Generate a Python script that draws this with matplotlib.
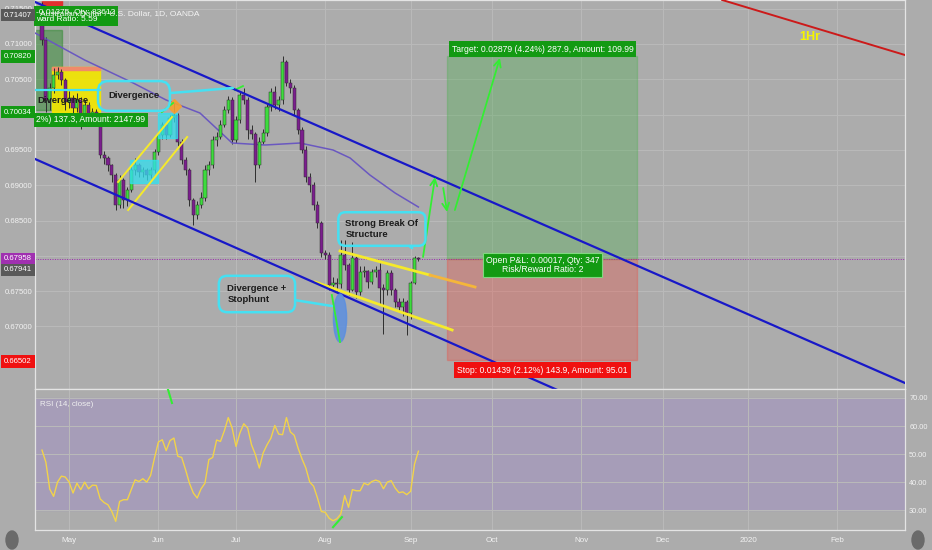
import numpy as np
import pandas as pd
import matplotlib
matplotlib.use("Agg")
import matplotlib.pyplot as plt
import matplotlib.transforms as mtransforms
from matplotlib.patches import Rectangle, Ellipse

plt.rcParams['font.family'] = ['Liberation Sans', 'DejaVu Sans']

# ─── Data (AUD/USD daily) ────────────────────────────────────────────────────
first_open = 0.71510
closes = [0.71057, 0.70207, 0.70377, 0.70561, 0.70604, 0.70490, 0.70179, 0.70235, 0.70094, 0.70207,
          0.69952, 0.70136, 0.69952, 0.70037, 0.69924, 0.69428, 0.69386, 0.69287, 0.69145, 0.68720,
          0.69074, 0.68791, 0.68933, 0.69216, 0.69287, 0.69188, 0.69216, 0.69145, 0.69216, 0.69471,
          0.69711, 0.69853, 0.69711, 0.69952, 0.69995, 0.69612, 0.69357, 0.69216, 0.68791, 0.68579,
          0.68720, 0.68819, 0.69216, 0.69287, 0.69641, 0.69683, 0.69853, 0.70065, 0.70207, 0.69641,
          0.69924, 0.70278, 0.70207, 0.69782, 0.69726, 0.69287, 0.69612, 0.69740, 0.70108, 0.70320,
          0.70136, 0.70207, 0.70745, 0.70448, 0.70377, 0.70065, 0.69782, 0.69499, 0.69117, 0.69003,
          0.68720, 0.68465, 0.68041, 0.68012, 0.67587, 0.67616, 0.67602, 0.68012, 0.67871, 0.67517,
          0.67970, 0.67488, 0.67772, 0.67780, 0.67630, 0.67772, 0.67800, 0.67545, 0.67517, 0.67757,
          0.67517, 0.67347, 0.67276, 0.67347, 0.67190, 0.67616, 0.67970, 0.67958]
highs = [0.71595, 0.71100, 0.70450, 0.70660, 0.70680, 0.70640, 0.70520, 0.70330, 0.70280, 0.70300,
         0.70250, 0.70200, 0.70180, 0.70100, 0.70080, 0.69950, 0.69480, 0.69420, 0.69300, 0.69180,
         0.69150, 0.69100, 0.68980, 0.69280, 0.69380, 0.69320, 0.69260, 0.69250, 0.69260, 0.69520,
         0.69760, 0.69900, 0.69880, 0.70000, 0.70160, 0.70020, 0.69650, 0.69400, 0.69250, 0.68820,
         0.68780, 0.68900, 0.69280, 0.69350, 0.69700, 0.69760, 0.69920, 0.70120, 0.70260, 0.70250,
         0.69980, 0.70320, 0.70380, 0.70250, 0.69850, 0.69750, 0.69680, 0.69800, 0.70150, 0.70380,
         0.70400, 0.70260, 0.70830, 0.70780, 0.70500, 0.70420, 0.70100, 0.69820, 0.69550, 0.69180,
         0.69050, 0.68780, 0.68500, 0.68080, 0.68050, 0.67700, 0.67680, 0.68220, 0.68220, 0.67900,
         0.68200, 0.68000, 0.67850, 0.67850, 0.67800, 0.67820, 0.67850, 0.67900, 0.67600, 0.67800,
         0.67800, 0.67550, 0.67400, 0.67400, 0.67380, 0.67650, 0.68000, 0.67990]
lows = [0.70986, 0.70037, 0.70065, 0.70300, 0.70500, 0.70420, 0.70065, 0.70100, 0.69850, 0.70040,
        0.69800, 0.69900, 0.69880, 0.69850, 0.69880, 0.69380, 0.69300, 0.69200, 0.69050, 0.68650,
        0.68680, 0.68680, 0.68700, 0.68900, 0.69150, 0.69120, 0.69120, 0.69080, 0.69100, 0.69180,
        0.69430, 0.69650, 0.69650, 0.69680, 0.69900, 0.69550, 0.69300, 0.69150, 0.68700, 0.68440,
        0.68520, 0.68680, 0.68780, 0.69150, 0.69250, 0.69550, 0.69650, 0.69820, 0.70020, 0.69580,
        0.69600, 0.69880, 0.70150, 0.69650, 0.69650, 0.69050, 0.69250, 0.69580, 0.69700, 0.70050,
        0.70080, 0.70050, 0.70150, 0.70400, 0.70300, 0.70000, 0.69720, 0.69450, 0.69050, 0.68900,
        0.68650, 0.68400, 0.67990, 0.67950, 0.67520, 0.67500, 0.67500, 0.67550, 0.67800, 0.67450,
        0.67500, 0.67400, 0.67450, 0.67700, 0.67550, 0.67600, 0.67700, 0.67300, 0.66900, 0.67450,
        0.67450, 0.67280, 0.67200, 0.67150, 0.66880, 0.67100, 0.67600, 0.67930]

# moving average (purple line), sampled at bar positions
ma_bars = [-1.8, 11, 23.5, 32, 40.7, 49, 57.5, 66.5, 75, 79.4, 84.5, 91, 97]
ma_vals = [0.71156, 0.70773, 0.70448, 0.70207, 0.70023, 0.69598, 0.69570, 0.69598,
           0.69499, 0.69386, 0.69145, 0.68890, 0.68692]

rsi = [51.4, 47.1, 37.5, 34.9, 40.0, 42.1, 41.8, 40.0, 36.1, 39.6,
       37.3, 40.0, 37.6, 38.9, 38.8, 34.0, 32.7, 31.9, 29.5, 26.0,
       33.1, 33.7, 33.7, 37.3, 40.8, 40.2, 41.2, 40.0, 42.4, 48.6,
       54.3, 55.1, 51.2, 54.8, 55.7, 49.2, 48.8, 44.4, 39.6, 36.1,
       34.3, 37.6, 39.6, 48.0, 48.8, 55.0, 54.5, 58.3, 63.0, 59.3,
       52.7, 57.5, 60.8, 59.3, 53.3, 49.8, 45.0, 50.4, 53.3, 55.7,
       60.2, 57.1, 56.9, 63.0, 57.9, 56.7, 52.1, 48.3, 45.0, 40.0,
       38.5, 34.3, 29.5, 29.2, 27.1, 26.2, 26.9, 28.6, 35.2, 31.0,
       37.3, 36.9, 36.9, 39.6, 39.0, 40.2, 40.7, 40.2, 37.6, 40.0,
       40.5, 37.9, 36.2, 36.5, 35.5, 36.7, 46.4, 51.0]

entry_price = 0.67958
target_diff = 0.02879
stop_diff = 0.01439

price_ticks = [0.670, 0.675, 0.680, 0.685, 0.690, 0.695, 0.700, 0.705, 0.710, 0.715]
hidden_ticks = [0.680, 0.700]   # covered by the coloured price labels
rsi_ticks = [30, 40, 50, 60, 70]

# ─── Colours ──────────────────────────────────────────────────────────────────
BG = "#acacac"
GRID = "#bababa"
UP = "#3ddc3d"
DOWN = "#7b1e8e"
WICK = "#2e2e2e"
CYAN = "#45e0f2"
TXT = "#f2f2f2"
LBL_GREEN = "#139a13"

W, H = 932, 550


def px_rect(x0, y0, x1, y1):
    return [x0 / W, 1 - y1 / H, (x1 - x0) / W, (y1 - y0) / H]


fig = plt.figure(figsize=(W / 100, H / 100), dpi=100)
fig.patch.set_facecolor(BG)
ax = fig.add_axes(px_rect(35, 0, 905, 389))
rax = fig.add_axes(px_rect(35, 389, 905, 530), sharex=ax)

for a in (ax, rax):
    a.set_facecolor(BG)
    for s in a.spines.values():
        s.set_color("#e4e4e4")
        s.set_linewidth(0.9)

XMIN, XMAX = -1.8, 222.4
ax.set_xlim(XMIN, XMAX)
ax.set_ylim(0.66115, 0.71623)
rax.set_ylim(22.9, 73.2)

# month ticks from the business-day calendar
dates = pd.bdate_range("2019-04-22", periods=230)
month_pos = [i for i in range(1, len(dates))
             if dates[i].month != dates[i - 1].month and i <= XMAX]
month_lab = ["2020" if dates[i].month == 1 else dates[i].strftime("%b") for i in month_pos]

ax.set_xticks(month_pos)
ax.set_yticks(price_ticks)
ax.set_yticklabels(["" if any(abs(p - h) < 1e-9 for h in hidden_ticks) else f"{p:.5f}"
                    for p in price_ticks])
ax.tick_params(axis="x", length=0, labelbottom=False)
ax.tick_params(axis="y", length=0, labelsize=5.6, labelcolor=TXT, pad=2)
ax.grid(True, color=GRID, lw=0.7, zorder=0)
ax.set_axisbelow(True)

rax.set_xticks(month_pos)
rax.set_xticklabels(month_lab)
rax.set_yticks(rsi_ticks)
rax.set_yticklabels([f"{v:.2f}" for v in rsi_ticks])
rax.yaxis.tick_right()
rax.tick_params(axis="x", length=0, labelsize=5.8, labelcolor=TXT, pad=5)
rax.tick_params(axis="y", length=0, labelsize=5.3, labelcolor=TXT, pad=3)
rax.grid(True, color=GRID, lw=0.7, zorder=0)
rax.set_axisbelow(True)

# ─── Candles ──────────────────────────────────────────────────────────────────
c = np.array(closes)
o = np.array([first_open] + closes[:-1])
bars = np.arange(len(c))
up = c >= o
ax.vlines(bars, lows, highs, color=WICK, lw=0.7, zorder=3)
ax.bar(bars, np.maximum(np.abs(c - o), 0.00005), bottom=np.minimum(o, c), width=0.8,
       color=np.where(up, UP, DOWN), edgecolor=WICK, linewidth=0.35, zorder=3.5)
ax.plot(ma_bars, ma_vals, color="#6a58c0", lw=1.1, zorder=3.2)

# ─── Drawings ─────────────────────────────────────────────────────────────────
ax.axhline(entry_price, color="#9c27b0", lw=0.7, ls=(0, (1, 1.5)), zorder=2)

# old position tool (top left)
ax.add_patch(Rectangle((-1.8, 0.70065), 7.0, 0.01133, color="#2e8b2e", alpha=0.5, zorder=2))
ax.add_patch(Rectangle((0, 0.71552), 5.2, 0.0008, color="#e03030", zorder=2))
ax.add_patch(Rectangle((2.6, 0.70037), 12.3, 0.00637, color="#f2e600", alpha=0.92, zorder=2.5))
ax.add_patch(Rectangle((2.6, 0.70630), 12.3, 0.00044, color="#f08a6a", zorder=2.6))
ax.plot([-1.8, 14.9], [0.70349, 0.70349], color=CYAN, lw=1.6, zorder=4)

# cyan highlight boxes + orange marker
ax.add_patch(Rectangle((22.7, 0.69032), 7.2, 0.00325, color="#33e0f0", alpha=0.75, zorder=3.6))
ax.add_patch(Rectangle((29.9, 0.69669), 4.9, 0.00354, color="#33e0f0", alpha=0.75, zorder=3.6))
ax.plot([34.0], [0.70122], marker="D", ms=7, color="#f5a030", alpha=0.9, zorder=3.7)

# yellow channel (May) and wedge (Aug)
ax.plot([19.6, 33.5], [0.69046, 0.69966], color="#f5ea2a", lw=1.4, zorder=4)
ax.plot([22.2, 37.4], [0.68649, 0.69683], color="#f5ea2a", lw=1.4, zorder=4)
ax.plot([76.8, 100.0], [0.68069, 0.67728], color="#f5ea2a", lw=2.0, zorder=4)
ax.plot([100.0, 111.6], [0.67728, 0.67559], color="#f5b63a", lw=2.0, zorder=4)
ax.plot([70.4, 105.7], [0.67630, 0.66950], color="#f5ea2a", lw=2.0, zorder=4)

# small green divergence strokes
ax.plot([30.9, 33.8], [0.70037, 0.70165], color="#33ee33", lw=1.3, zorder=4)
ax.plot([49.7, 51.8], [0.70349, 0.70405], color="#33ee33", lw=1.3, zorder=4)
ax.plot([74.7, 76.8], [0.67446, 0.66780], color="#33ee33", lw=1.3, zorder=4.2)

# stophunt ellipse
ax.add_patch(Ellipse((76.8, 0.67120), 3.4, 0.0068, color="#5b8fe0", alpha=0.85, zorder=4.1))

# channel lines
ax.plot([-1.8, 222.4], [0.71595, 0.66200], color="#1818c8", lw=1.6, zorder=4)
ax.plot([-1.8, 222.4], [0.69372, 0.63924], color="#1818c8", lw=1.6, zorder=4)
ax.plot([175.3, 222.4], [0.71623, 0.70844], color="#cc1a1a", lw=1.4, zorder=4)
ax.text(197.9, 0.71099, "1Hr", color="#f5f500", fontsize=9, fontweight="bold",
        ha="center", va="center", zorder=5)

# long position tool
ax.add_patch(Rectangle((104.4, entry_price), 49.0, target_diff, color="#4caf50", alpha=0.35, zorder=1.5))
ax.add_patch(Rectangle((104.4, entry_price - stop_diff), 49.0, stop_diff, color="#f44336", alpha=0.3, zorder=1.5))
ax.text(129.0, 0.70929, "Target: 0.02879 (4.24%) 287.9, Amount: 109.99", fontsize=6.2, color="white",
        ha="center", va="center", zorder=6,
        bbox=dict(boxstyle="square,pad=0.35", fc=LBL_GREEN, ec="none"))
ax.text(129.0, 0.66384, "Stop: 0.01439 (2.12%) 143.9, Amount: 95.01", fontsize=6.2, color="white",
        ha="center", va="center", zorder=6,
        bbox=dict(boxstyle="square,pad=0.35", fc="#f01010", ec="none"))
ax.text(129.0, 0.67871, "Open P&L: 0.00017, Qty: 347\nRisk/Reward Ratio: 2", fontsize=6.2,
        color="white", ha="center", va="center", linespacing=1.0, zorder=6,
        bbox=dict(boxstyle="square,pad=0.3", fc=LBL_GREEN, ec="#7fd87f", lw=0.8))

# projected path arrows
arrow = dict(arrowstyle="->,head_length=0.5,head_width=0.25", color="#33ee33", lw=1.3,
             shrinkA=0, shrinkB=0)
ax.annotate("", xy=(101.3, 0.69117), xytext=(98.2, 0.67984), arrowprops=arrow, zorder=5)
ax.annotate("", xy=(104.4, 0.68621), xytext=(103.4, 0.68961), arrowprops=arrow, zorder=5)
ax.annotate("", xy=(118.0, 0.70802), xytext=(106.4, 0.68649), arrowprops=arrow, zorder=5)

# callouts
callout = dict(fontsize=6.8, fontweight="bold", color="#1c1c1c", ha="center", va="center",
               multialignment="left", zorder=6)
ax.annotate("Strong Break Of\nStructure", xy=(95.4, 0.68111), xytext=(87.6, 0.68380),
            bbox=dict(boxstyle="round,pad=0.75", fc="none", ec=CYAN, lw=1.8),
            arrowprops=dict(arrowstyle="-", color=CYAN, lw=1.8, shrinkA=0, shrinkB=0), **callout)
ax.annotate("Divergence +\nStophunt", xy=(74.7, 0.67290), xytext=(55.4, 0.67460),
            bbox=dict(boxstyle="round,pad=0.9", fc="none", ec=CYAN, lw=1.8),
            arrowprops=dict(arrowstyle="-", color=CYAN, lw=1.8, shrinkA=0, shrinkB=0), **callout)
ax.annotate("Divergence", xy=(49.2, 0.70377), xytext=(23.7, 0.70264),
            bbox=dict(boxstyle="round,pad=1.1", fc="none", ec=CYAN, lw=1.8),
            arrowprops=dict(arrowstyle="-", color=CYAN, lw=1.8, shrinkA=0, shrinkB=0), **callout)
ax.text(-1.3, 0.70193, "Divergence", fontsize=6.8, fontweight="bold", color="#1c1c1c",
        ha="left", va="center", zorder=5)

# old position labels + chart title
ax.text(-1.5, 0.71396, "-0.01375, Qty: 83612\nward Ratio: 5.59", fontsize=6.0, color="white",
        ha="left", va="center", linespacing=1.05, zorder=6,
        bbox=dict(boxstyle="square,pad=0.3", fc=LBL_GREEN, ec="none"))
ax.text(-1.5, 0.69924, "2%) 137.3, Amount: 2147.99", fontsize=6.2, color="white",
        ha="left", va="center", zorder=6,
        bbox=dict(boxstyle="square,pad=0.3", fc=LBL_GREEN, ec="none"))
fig.text(40 / W, 1 - 14 / H, "Australian Dollar / U.S. Dollar, 1D, OANDA", fontsize=6.0,
         color="#f4f4f4", ha="left", va="center", zorder=10)

# coloured price labels on the left scale
tr = mtransforms.blended_transform_factory(ax.transAxes, ax.transData)
for price, text, fc in [(0.71407, "0.71407", "#595959"), (0.70820, "0.70820", LBL_GREEN),
                        (0.70034, "0.70034", LBL_GREEN), (0.67958, "0.67958", "#a030b0"),
                        (0.67800, "0.67941", "#595959"), (0.66502, "0.66502", "#f01010")]:
    ax.text(-0.0035, price, text, transform=tr, fontsize=5.6, color="white", ha="right",
            va="center", clip_on=False, zorder=7,
            bbox=dict(boxstyle="square,pad=0.35", fc=fc, ec="none"))

# ─── RSI pane ─────────────────────────────────────────────────────────────────
rax.axhspan(30, 70, color="#a69db8", zorder=0.5)
rax.plot(bars, rsi, color="#f2d34a", lw=1.0, zorder=3)
rax.plot([75.0, 77.3], [23.9, 27.5], color="#33ee33", lw=1.5, zorder=4)
rax.plot([32.5, 33.5], [72.9, 68.2], color="#33ee33", lw=1.5, zorder=4)
rax.text(0.006, 0.89, "RSI (14, close)", transform=rax.transAxes, fontsize=5.8,
         color="#f0f0f0", ha="left", va="center")

# scroll buttons in the corners
for cx in (12, 918):
    fig.add_artist(Ellipse((cx / W, 10 / H), 12 / W, 18 / H, transform=fig.transFigure,
                           color="#6a6a6a"))

fig.savefig("out.png", dpi=100, facecolor=BG)
